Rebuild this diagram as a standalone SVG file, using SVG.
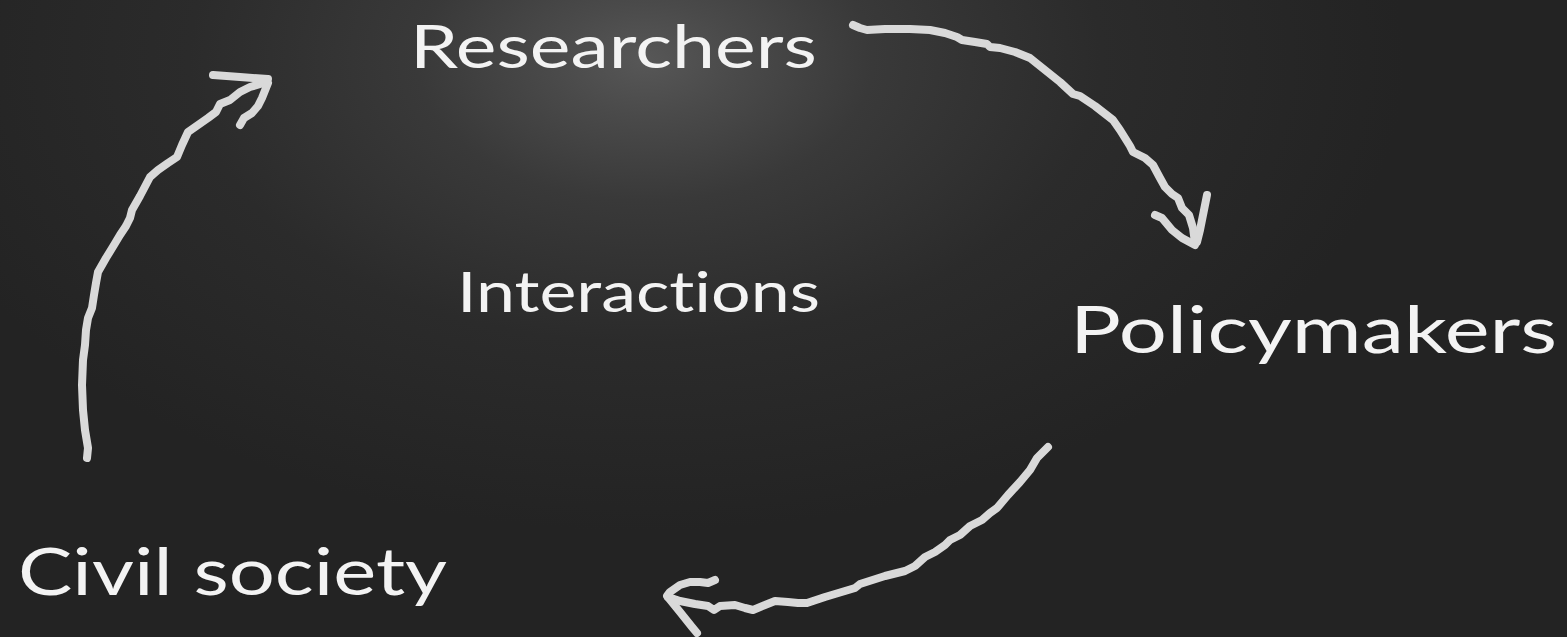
<svg xmlns="http://www.w3.org/2000/svg" width="1567" height="637" viewBox="0 0 1567 637">
  <defs>
    <radialGradient id="spot" gradientUnits="userSpaceOnUse" cx="645" cy="60" r="760" gradientTransform="translate(645 60) scale(1 0.62) translate(-645 -60)">
      <stop offset="0" stop-color="#575757"/>
      <stop offset="0.12" stop-color="#4a4a4a"/>
      <stop offset="0.3" stop-color="#393939"/>
      <stop offset="0.6" stop-color="#2b2b2b"/>
      <stop offset="1" stop-color="#232323"/>
    </radialGradient>
    <style>
      .label { font-family: "Lato", "Open Sans", "Liberation Sans", sans-serif; fill: #f3f3f3; font-variant-ligatures: none; }
      .chalk { fill: none; stroke: #d9d9d9; stroke-width: 8; stroke-linecap: round; stroke-linejoin: round; }
    </style>
  </defs>

  <!-- chalkboard -->
  <rect x="0" y="0" width="1567" height="637" fill="#232323"/>
  <rect x="0" y="0" width="1567" height="637" fill="url(#spot)"/>

  <!-- hand-drawn arrows -->
  <g id="connectors">
    <g id="researchers-to-policymakers">
      <path class="chalk" d="M853,25 L860,28 867,30 L885,29 910,29 930,30 L945,33 957,37 L962,40 L975,42 987,44 L990,47 L1000,48 1015,52 1030,58 L1045,70 1060,82 1073,94 L1080,96 1095,106 1113,120 L1120,130 1130,146 1133,152 L1145,158 1153,165 L1160,178 1165,187 1172,194 L1178,198 1182,208 1189,215 L1193,228 1195,243"/>
      <path class="chalk" d="M1155,215 L1162,218 1172,230 1182,238 1195,245 M1207,195 L1203,215 1200,230 1197,242"/>
    </g>
    <g id="policymakers-to-civil">
      <path class="chalk" d="M1048,447 L1040,455 1037,458 L1030,470 1020,482 L1008,495 997,508 L990,513 982,520 970,526 L960,535 950,540 945,545 L935,552 925,557 915,566 L905,571 L885,576 860,584 855,588 L845,591 825,597 807,603 L798,603 788,602 775,601 L765,605 753,610 L745,608 735,605 720,606 L714,610 708,606 L695,604 680,601 668,597"/>
      <path class="chalk" d="M715,580 L708,583 700,582 690,582 680,585 670,592 667,596 L680,612 692,627 697,633"/>
    </g>
    <g id="civil-to-researchers">
      <path class="chalk" d="M87,458 L88,448 L85,430 83,410 82,385 83,360 L85,345 86,330 L88,318 92,308 L94,295 96,283 L98,272 L106,258 114,245 120,235 L126,226 130,218 L132,210 L140,196 150,177 L158,170 168,163 177,157 L182,145 188,132 L198,125 208,118 216,112 L220,104 L230,100 L240,92 250,87 267,82"/>
      <path class="chalk" d="M213,75 L240,77 268,79 M240,125 L244,118 252,113 258,106 262,98 268,83"/>
    </g>
  </g>

  <!-- labels -->
  <g id="researchers">
    <text class="label" x="410" y="68" font-size="60" textLength="407" lengthAdjust="spacingAndGlyphs">Researchers</text>
  </g>
  <g id="interactions">
    <text class="label" x="457" y="312" font-size="56" textLength="363" lengthAdjust="spacingAndGlyphs">Interactions</text>
  </g>
  <g id="policymakers">
    <text class="label" x="1070" y="353" font-size="66" textLength="487" lengthAdjust="spacingAndGlyphs">Policymakers</text>
  </g>
  <g id="civil-society">
    <text class="label" x="18" y="595" font-size="66" textLength="429" lengthAdjust="spacingAndGlyphs">Civil society</text>
  </g>
</svg>
